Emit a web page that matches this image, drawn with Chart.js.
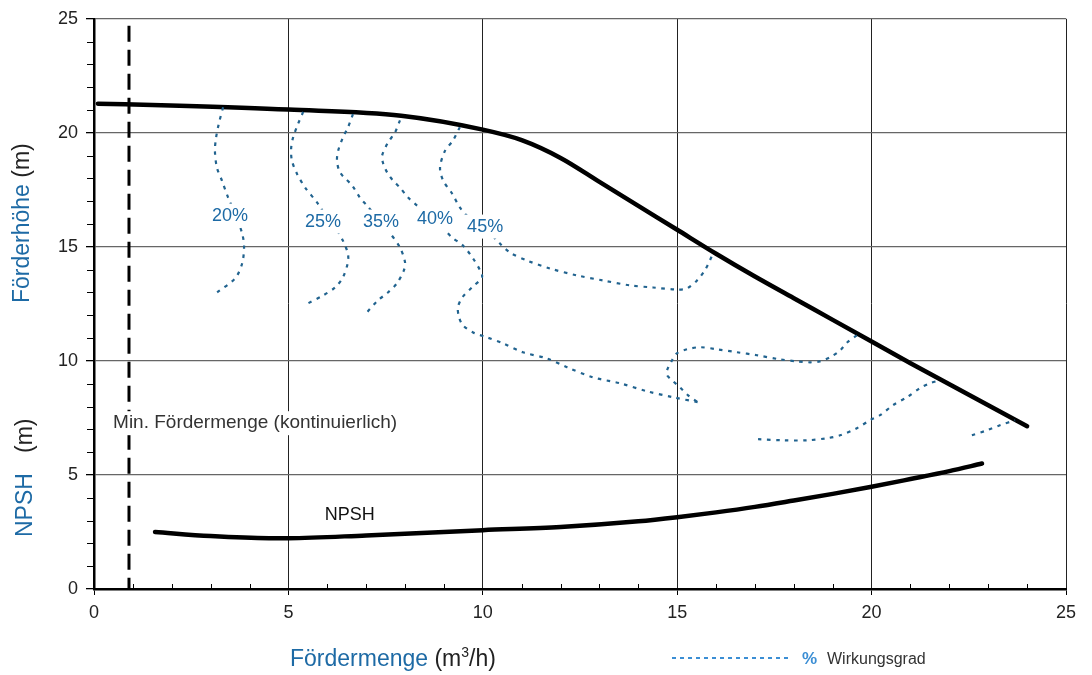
<!DOCTYPE html>
<html>
<head>
<meta charset="utf-8">
<title>Kennlinie</title>
<script src="https://cdn.jsdelivr.net/npm/chart.js@4.4.0/dist/chart.umd.min.js"></script>
<style>
    html, body { margin: 0; padding: 0; background: #fff; }
    #wrap { width: 1092px; height: 675px; }
</style>
</head>
<body>
<div id="wrap"><canvas id="pumpChart" width="1092" height="675"></canvas></div>
<script>
// Förderhöhe (head) curve
const headQ = [0.1, 2.2, 5, 7.9, 10, 11, 12, 13, 14, 15, 16, 17, 18, 19, 20, 21, 22, 23, 24];
const headH = [21.28, 21.19, 21.02, 20.75, 20.14, 19.68, 18.9, 17.85, 16.8, 15.75, 14.7, 13.7, 12.75, 11.8, 10.85, 9.9, 8.98, 8.06, 7.14];

// NPSH curve
const npshQ = [1.57, 3, 4.5, 5, 7, 10, 12, 14, 15, 16, 17, 18, 19, 20, 21, 22, 22.84];
const npshH = [2.5, 2.32, 2.23, 2.23, 2.35, 2.58, 2.72, 2.97, 3.15, 3.36, 3.6, 3.88, 4.17, 4.48, 4.82, 5.17, 5.5];

// Min. Fördermenge
const minQ = [0.9, 0.9];
const minH = [24.69, 0];

// Wirkungsgrad curves
const eta20Q = [3.32, 3.21, 3.14, 3.11, 3.16, 3.29, 3.45, 3.65, 3.81, 3.86, 3.81, 3.63, 3.16];
const eta20H = [21.12, 20.4, 19.79, 19.22, 18.48, 17.91, 17.16, 16.37, 15.59, 15.02, 14.27, 13.62, 13.0];

const eta25Q = [5.38, 5.25, 5.12, 5.07, 5.09, 5.22, 5.43, 5.74, 5.99, 6.25, 6.4, 6.53, 6.53, 6.4, 6.2, 5.89, 5.5];
const eta25H = [20.92, 20.4, 19.79, 19.31, 18.78, 18.21, 17.6, 16.94, 16.29, 15.72, 15.28, 14.71, 14.32, 13.66, 13.22, 12.87, 12.52];

const eta35Q = [6.66, 6.53, 6.4, 6.28, 6.25, 6.33, 6.64, 6.84, 7.02, 7.3, 7.56, 7.87, 8.0, 7.97, 7.79, 7.56, 7.3, 7.02];
const eta35H = [20.82, 20.23, 19.79, 19.22, 18.78, 18.26, 17.69, 17.16, 16.81, 16.24, 15.72, 14.97, 14.32, 13.97, 13.4, 13.0, 12.65, 12.13];

const eta40Q = [7.87, 7.74, 7.56, 7.41, 7.43, 7.54, 7.69, 7.87, 8.08, 8.31, 8.54, 8.77, 9.03, 9.21, 9.49, 9.75, 9.93, 9.98,
                9.72, 9.47, 9.36, 9.39, 9.49, 9.75, 10.11, 10.52, 11.03, 11.65, 12.17, 12.83, 13.53, 14.22, 14.89, 15.53];
const eta40H = [20.55, 20.01, 19.57, 19.0, 18.7, 18.26, 17.91, 17.6, 17.16, 16.81, 16.51, 16.16, 15.72, 15.41, 15.06, 14.49, 13.97, 13.66,
                13.22, 12.78, 12.35, 11.91, 11.56, 11.25, 11.03, 10.77, 10.38, 10.11, 9.72, 9.28, 9.02, 8.67, 8.41, 8.19];

const eta45Q = [9.41, 9.23, 9.03, 8.9, 8.98, 9.21, 9.41, 9.59, 9.83, 10.06, 10.44, 10.7, 11.14, 11.73, 12.42, 13.09, 13.79, 14.38,
                14.99, 15.25, 15.51, 15.71, 15.84, 15.92];
const eta45H = [20.25, 19.66, 19.22, 18.48, 17.91, 17.34, 16.73, 16.37, 16.11, 15.81, 15.15, 14.75, 14.4, 14.05, 13.75, 13.53, 13.31, 13.22,
                13.13, 13.18, 13.53, 13.97, 14.4, 14.71];

const eta50Q = [19.62, 19.37, 19.19, 18.93, 18.67, 18.42, 18.08, 17.64, 17.05, 16.54, 16.02, 15.59, 15.25, 14.99, 14.87, 14.74, 14.74,
                14.87, 15.07, 15.28, 15.53];
const eta50H = [11.12, 10.81, 10.46, 10.16, 9.98, 9.94, 9.98, 10.07, 10.25, 10.38, 10.51, 10.6, 10.51, 10.33, 10.03, 9.59, 9.37,
                9.15, 8.84, 8.49, 8.19];

const eta55Q = [17.08, 17.72, 18.34, 18.85, 19.19, 19.62, 19.96, 20.22, 20.55, 20.91, 21.24, 21.5, 21.76];
const eta55H = [6.57, 6.52, 6.52, 6.61, 6.74, 7.05, 7.4, 7.62, 8.06, 8.41, 8.8, 9.02, 9.15];

const eta60Q = [22.58, 22.97, 23.3, 23.69];
const eta60H = [6.74, 6.96, 7.18, 7.4];

// in-plot labels
const effLabels = ['20%', '25%', '35%', '40%', '45%'];
const effLabelQ = [3.5, 5.89, 7.38, 8.77, 10.06];
const effLabelH = [16.37, 16.11, 16.11, 16.2, 15.89];

const xTicks = [0, 5, 10, 15, 20, 25];
const yTicks = [0, 5, 10, 15, 20, 25];

const FONT = '"Liberation Sans", Arial, sans-serif';
const BLUE = '#1d6aa5';
const ETA_COLOR = '#21638f';

function pts(q, h) {
    return q.map((v, i) => ({ x: v, y: h[i] }));
}

function etaSet(q, h) {
    return {
        data: pts(q, h),
        borderColor: ETA_COLOR,
        borderWidth: 2.2,
        borderDash: [3.5, 5.5],
        tension: 0.3,
        pointRadius: 0
    };
}

// small ticks between the labelled ones
const minorTicks = {
    id: 'minorTicks',
    afterDraw(chart) {
        const { ctx, chartArea, scales } = chart;
        ctx.save();
        ctx.strokeStyle = '#000';
        ctx.lineWidth = 1;
        for (let i = 1; i < 25; i++) {
            if (i % 5 === 0) continue;
            const px = Math.round(scales.x.getPixelForValue(i)) + 0.5;
            ctx.beginPath();
            ctx.moveTo(px, chartArea.bottom - 5);
            ctx.lineTo(px, chartArea.bottom);
            ctx.stroke();
            const py = Math.round(scales.y.getPixelForValue(i)) + 0.5;
            ctx.beginPath();
            ctx.moveTo(chartArea.left - 7, py);
            ctx.lineTo(chartArea.left - 1, py);
            ctx.stroke();
        }
        ctx.restore();
    }
};

function boxedText(ctx, text, x, y, align, color) {
    const w = ctx.measureText(text).width;
    const left = align === 'left' ? x : x - w / 2;
    ctx.fillStyle = '#fff';
    ctx.fillRect(left - 3, y - 12, w + 6, 24);
    ctx.textAlign = align;
    ctx.textBaseline = 'middle';
    ctx.fillStyle = color;
    ctx.fillText(text, x, y);
}

const plotLabels = {
    id: 'plotLabels',
    afterDatasetsDraw(chart) {
        const { ctx, scales } = chart;
        ctx.save();
        ctx.font = '18px ' + FONT;
        effLabels.forEach((t, i) => {
            boxedText(ctx, t, scales.x.getPixelForValue(effLabelQ[i]), scales.y.getPixelForValue(effLabelH[i]), 'center', BLUE);
        });
        ctx.font = '19px ' + FONT;
        boxedText(ctx, 'Min. Fördermenge (kontinuierlich)', scales.x.getPixelForValue(0.49), scales.y.getPixelForValue(7.27), 'left', '#333');
        ctx.font = '18px ' + FONT;
        ctx.textAlign = 'center';
        ctx.fillStyle = '#111';
        ctx.fillText('NPSH', scales.x.getPixelForValue(6.58), scales.y.getPixelForValue(3.24));
        ctx.restore();
    }
};

function drawRun(ctx, parts, x, y) {
    parts.forEach(p => {
        ctx.font = p.font;
        ctx.fillStyle = p.color;
        ctx.fillText(p.text, x, y + (p.dy || 0));
        x += ctx.measureText(p.text).width;
    });
}

const axisTitles = {
    id: 'axisTitles',
    afterDraw(chart) {
        const ctx = chart.ctx;
        const big = '23px ' + FONT;
        ctx.save();
        ctx.textAlign = 'left';
        ctx.textBaseline = 'alphabetic';

        // x title
        drawRun(ctx, [
            { text: 'Fördermenge', font: big, color: BLUE },
            { text: ' (m', font: big, color: '#222' },
            { text: '3', font: '14px ' + FONT, color: '#222', dy: -9 },
            { text: '/h)', font: big, color: '#222' }
        ], 290, 666);

        // y title (head)
        ctx.save();
        ctx.translate(29, 303);
        ctx.rotate(-Math.PI / 2);
        drawRun(ctx, [
            { text: 'Förderhöhe', font: big, color: BLUE },
            { text: ' (m)', font: big, color: '#222' }
        ], 0, 0);
        ctx.restore();

        // y title (NPSH)
        ctx.save();
        ctx.translate(32, 537);
        ctx.rotate(-Math.PI / 2);
        drawRun(ctx, [{ text: 'NPSH', font: big, color: BLUE }], 0, 0);
        drawRun(ctx, [{ text: '(m)', font: big, color: '#222' }], 84, 0);
        ctx.restore();

        // legend
        ctx.strokeStyle = '#3b8ed4';
        ctx.lineWidth = 2;
        ctx.setLineDash([4, 4]);
        ctx.beginPath();
        ctx.moveTo(672, 658);
        ctx.lineTo(788, 658);
        ctx.stroke();
        ctx.setLineDash([]);
        drawRun(ctx, [{ text: '%', font: 'bold 17px ' + FONT, color: '#3b8ed4' }], 802, 664);
        drawRun(ctx, [{ text: 'Wirkungsgrad', font: '16px ' + FONT, color: '#333' }], 827, 664);
        ctx.restore();
    }
};

const hideZero = (c) => (c.tick.value === 0 ? 'rgba(0,0,0,0)' : c.scale.axis === 'x' ? '#222' : '#666');

const ctx = document.getElementById('pumpChart').getContext('2d');
new Chart(ctx, {
    type: 'scatter',
    data: {
        datasets: [
            etaSet(eta20Q, eta20H),
            etaSet(eta25Q, eta25H),
            etaSet(eta35Q, eta35H),
            etaSet(eta40Q, eta40H),
            etaSet(eta45Q, eta45H),
            etaSet(eta50Q, eta50H),
            etaSet(eta55Q, eta55H),
            etaSet(eta60Q, eta60H),
            {
                data: pts(minQ, minH),
                borderColor: '#000',
                borderWidth: 3,
                borderDash: [16, 8],
                pointRadius: 0
            },
            {
                data: pts(headQ, headH),
                borderColor: '#000',
                borderWidth: 4.5,
                borderCapStyle: 'round',
                cubicInterpolationMode: 'monotone',
                pointRadius: 0
            },
            {
                data: pts(npshQ, npshH),
                borderColor: '#000',
                borderWidth: 4.5,
                borderCapStyle: 'round',
                cubicInterpolationMode: 'monotone',
                pointRadius: 0
            }
        ]
    },
    options: {
        responsive: false,
        animation: false,
        showLine: true,
        layout: { padding: { top: 18, right: 26, left: 0, bottom: 0 } },
        scales: {
            x: {
                type: 'linear',
                min: 0,
                max: 25,
                afterBuildTicks: (s) => { s.ticks = xTicks.map(v => ({ value: v })); },
                afterFit: (s) => { s.height = 86; },
                ticks: { font: { size: 18, family: FONT }, color: '#222', padding: 7 },
                grid: { color: hideZero, lineWidth: 1, tickLength: 6, tickColor: '#000' },
                border: { color: '#000', width: 2.5 }
            },
            y: {
                min: 0,
                max: 25,
                afterBuildTicks: (s) => { s.ticks = yTicks.map(v => ({ value: v })); },
                afterFit: (s) => { s.width = 94; },
                ticks: { font: { size: 18, family: FONT }, color: '#222', padding: 8 },
                grid: { color: hideZero, lineWidth: 1.3, tickLength: 8, tickColor: '#000' },
                border: { color: '#000', width: 2.5 }
            }
        },
        plugins: {
            legend: { display: false },
            tooltip: { enabled: false }
        }
    },
    plugins: [minorTicks, plotLabels, axisTitles]
});
</script>
</body>
</html>
